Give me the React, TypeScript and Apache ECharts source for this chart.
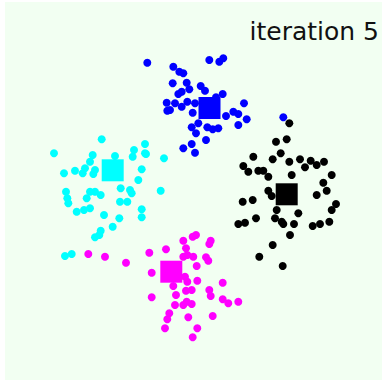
import React, { useEffect, useRef } from "react";
import * as echarts from "echarts";

const titleText = "iteration 5";
const clusterNames = ["blue", "cyan", "black", "magenta"];
const clusterColors = ["#0000ff", "#00ffff", "#000000", "#ff00ff"];

const bluePoints: number[][] = [
  [147.3, 62.7], [209.3, 60], [219.3, 61.7], [223.3, 58.3], [173.3, 66.7], [179.3, 71.7],
  [183.3, 73.3], [172.7, 83.3], [186.7, 82.7], [189.3, 89.3], [200.7, 86], [205, 90.7],
  [181.7, 91.7], [178.3, 94], [222.7, 94], [216, 97.3], [166.7, 102.7], [175, 103.3],
  [181.7, 106.7], [187.3, 101.7], [195, 103.3], [167.3, 110.7], [170, 110], [192.7, 112.7],
  [244, 103.3], [233.3, 111.7], [238.3, 114], [226, 116], [246.7, 119.3], [238.3, 125],
  [198.3, 123.3], [191.7, 127.3], [207.3, 127.3], [212.7, 129.3], [218.3, 128.3], [196, 133.3],
  [206, 140], [191.7, 144], [183.3, 148.3], [195, 152.7], [283.3, 117.3],
];

const cyanPoints: number[][] = [
  [101.7, 139.3], [54, 153.3], [145, 144], [146, 154], [134, 150], [132.7, 156.7],
  [92.7, 155], [90, 161.7], [85, 168.3], [82.7, 173.3], [95, 170], [93.3, 174],
  [75, 170.7], [64, 173.3], [164, 158.3], [141.7, 169.3], [138.3, 180], [115, 156],
  [120.7, 188.3], [130, 190], [131.7, 193.3], [160.7, 190.7], [66, 191.7], [67.3, 198.3],
  [68.3, 203.3], [90, 191.7], [95, 191.7], [100.7, 195], [86.7, 198.3], [120, 201.7],
  [127.3, 201.7], [76.7, 211.7], [84, 210], [90, 208.3], [141.7, 209.3], [141.7, 217.3],
  [104, 215], [119.3, 218.3], [112.7, 226.7], [100.7, 230.7], [99.3, 235], [95, 237.3],
  [65, 256], [71.7, 254], [145, 153.3],
];

const blackPoints: number[][] = [
  [289.3, 123.3], [276, 141.7], [286.7, 139.3], [253.3, 156.7], [280.7, 153.3], [272.7, 159.3],
  [289.3, 161.7], [300, 159.3], [310.7, 160.7], [316.7, 165], [324, 161.7], [305, 167.3],
  [243.3, 166], [248.3, 171.7], [258.3, 170.7], [263.3, 170.7], [268.3, 176.7], [291.7, 175],
  [331.7, 175], [323.3, 182.7], [326.7, 190.7], [316.7, 195], [268.3, 190.7], [271.7, 196],
  [242.7, 201.7], [252.7, 200], [336, 204], [331.7, 210], [276.7, 210], [298.3, 213.3],
  [256, 218.3], [275, 218.3], [281.7, 221.7], [283.3, 224], [294, 224], [238.3, 224],
  [245, 222.7], [312.7, 226], [320, 224], [329.3, 221.7], [290, 235], [272.7, 245],
  [259.3, 256.7], [282.7, 266],
];

const magentaPoints: number[][] = [
  [88.3, 254], [105, 256.7], [126, 262.7], [149.3, 252.7], [166, 249.3], [183.3, 240.7],
  [192.7, 236.7], [196, 235], [210.7, 240.7], [209.3, 244], [186, 248.3], [187.3, 255],
  [193.3, 256.7], [183.3, 256.7], [206, 257.3], [208.3, 260.7], [196.7, 266], [151.7, 272.7],
  [185, 276.7], [187.3, 281.7], [197.3, 280.7], [222.7, 282.7], [173.3, 286], [186, 290.7],
  [191.7, 290], [209.3, 290], [210.7, 296], [151.7, 297.3], [176, 295], [222.7, 299.3],
  [228.3, 303.3], [238.3, 301.7], [186.7, 301.7], [191.7, 304], [183.3, 305], [175, 305],
  [169.3, 313.3], [167.3, 319.3], [188.3, 317.3], [212.7, 316], [165, 328.3], [197.3, 328.3],
  [192.7, 337.3],
];

const centroids: number[][] = [
  [209.5, 108], [112.7, 170.3], [286.7, 194.3], [171.3, 271.7],
];

const clusterPoints = [bluePoints, cyanPoints, blackPoints, magentaPoints];

export default function App() {
  const ref = useRef<HTMLDivElement>(null);
  useEffect(() => {
    if (!ref.current) return;
    const chart = echarts.init(ref.current, undefined, { renderer: "svg" });
    const series: any[] = [];
    clusterPoints.forEach((pts, i) => {
      series.push({
        name: clusterNames[i],
        type: "scatter",
        data: pts,
        symbol: "circle",
        symbolSize: 8,
        itemStyle: { color: clusterColors[i], opacity: 1 },
        silent: true,
        z: 2,
      });
    });
    series.push({
      name: "centroids",
      type: "scatter",
      data: centroids.map((c, i) => ({
        value: c,
        itemStyle: { color: clusterColors[i], opacity: 1 },
      })),
      symbol: "rect",
      symbolSize: 22,
      itemStyle: { opacity: 1 },
      silent: true,
      z: 3,
    });
    chart.setOption({
      animation: false,
      backgroundColor: "#ffffff",
      grid: { left: 0, right: 0, top: 0, bottom: 0 },
      xAxis: { type: "value", min: 0, max: 382, show: false },
      yAxis: { type: "value", min: 0, max: 380, inverse: true, show: false },
      graphic: [
        {
          type: "rect",
          shape: { x: 5, y: 2, width: 377, height: 378 },
          style: { fill: "#f2fff2" },
          z: -10,
          silent: true,
        },
        {
          type: "text",
          right: 3,
          top: 19,
          style: {
            text: titleText,
            fontFamily: "DejaVu Sans",
            fontSize: 25,
            fill: "#111111",
          },
          z: 10,
        },
      ],
      series,
    });
    return () => chart.dispose();
  }, []);
  return (
    <div
      ref={ref}
      style={{ position: "fixed", left: 0, top: 0, width: 382, height: 380 }}
    />
  );
}
